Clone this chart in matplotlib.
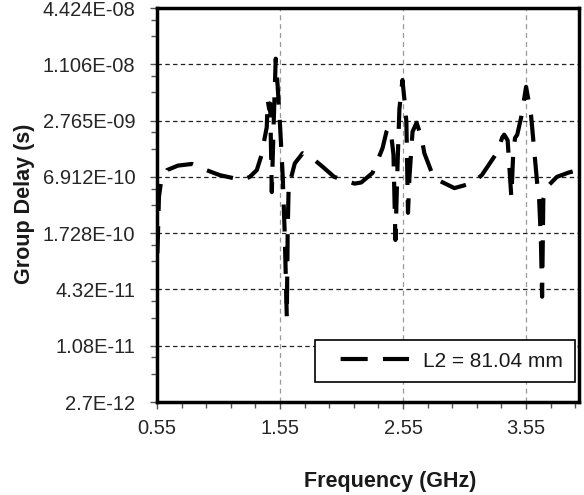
import matplotlib
matplotlib.use("Agg")
import matplotlib.pyplot as plt
from matplotlib.ticker import FixedLocator, FixedFormatter, NullFormatter

plt.rcParams['font.family'] = ['Liberation Sans', 'DejaVu Sans']
plt.rcParams['lines.scale_dashes'] = False

# ---- data ----
freq_ghz = [0.55, 0.558, 0.566, 0.582, 0.631, 0.72, 0.834, 0.94, 1.06, 1.166, 1.24, 1.304,
            1.361, 1.40, 1.426, 1.442, 1.45, 1.462, 1.47, 1.483, 1.499, 1.515, 1.531, 1.548,
            1.572, 1.588, 1.605, 1.612, 1.62, 1.67, 1.734, 1.83, 1.896, 1.99, 2.156, 2.21,
            2.302, 2.383, 2.415, 2.432, 2.456, 2.472, 2.488, 2.505, 2.52, 2.545, 2.569, 2.577,
            2.59, 2.602, 2.627, 2.66, 2.70, 2.723, 2.80, 2.967, 3.113, 3.19, 3.316, 3.356,
            3.372, 3.40, 3.43, 3.445, 3.46, 3.478, 3.51, 3.55, 3.59, 3.64, 3.656, 3.67,
            3.68, 3.69, 3.72, 3.80, 3.90, 3.98]
group_delay_s = [7.52e-11, 1.73e-10, 4.25e-10, 6.02e-10, 8.16e-10, 9.12e-10, 9.50e-10, 8.27e-10,
                 7.21e-10, 6.72e-10, 6.36e-10, 6.91e-10,
                 8.16e-10, 1.187e-9, 1.824e-9, 2.34e-9, 4.55e-9, 3.65e-9, 4.19e-9, 4.75e-10,
                 2.765e-9, 1.27e-8, 6.35e-9, 2.765e-9,
                 6.91e-10, 1.73e-10, 2.16e-11, 1.73e-10, 5.38e-10, 9.64e-10, 1.237e-9, 1.048e-9,
                 8.87e-10, 6.91e-10, 5.85e-10, 6.02e-10,
                 7.62e-10, 1.40e-9, 2.10e-9, 2.31e-9, 1.824e-9, 1.20e-9, 1.46e-10, 9.12e-10,
                 3.65e-9, 7.50e-9, 3.65e-9, 2.62e-9,
                 2.85e-10, 6.91e-10, 2.10e-9, 2.62e-9, 1.824e-9, 1.237e-9, 6.72e-10, 5.24e-10,
                 5.93e-10, 7.21e-10, 1.27e-9, 1.824e-9,
                 1.955e-9, 1.70e-9, 4.20e-10, 1.20e-9, 1.80e-9, 1.955e-9, 3.0e-9, 6.35e-9,
                 3.18e-9, 5.93e-10, 3.97e-10, 1.50e-10,
                 3.61e-11, 3.97e-10, 5.38e-10, 6.91e-10, 7.72e-10, 8.16e-10]
series_label = "L2 = 81.04 mm"

y_tick_values = [2.7e-12, 1.08e-11, 4.32e-11, 1.728e-10, 6.912e-10, 2.765e-9, 1.106e-8, 4.424e-8]
y_tick_labels = ["2.7E-12", "1.08E-11", "4.32E-11", "1.728E-10", "6.912E-10",
                 "2.765E-09", "1.106E-08", "4.424E-08"]
x_tick_values = [0.55, 1.55, 2.55, 3.55]
x_tick_labels = ["0.55", "1.55", "2.55", "3.55"]

W, H = 584, 495
fig = plt.figure(figsize=(W / 100, H / 100), dpi=100)
ax = fig.add_axes([157 / W, 1 - 402 / H, (579 - 157) / W, (402 - 8) / H])

ax.set_yscale('log')
ax.set_xlim(0.55, 3.98)
ax.set_ylim(y_tick_values[0], y_tick_values[-1])

ax.plot(freq_ghz, group_delay_s, color='black', lw=3.0,
        linestyle=(20.7, (19.5, 11)), solid_capstyle='butt', dash_capstyle='butt',
        label=series_label, zorder=3)

# ticks
ax.yaxis.set_major_locator(FixedLocator(y_tick_values))
ax.yaxis.set_major_formatter(FixedFormatter(y_tick_labels))
minor_y = []
for v in y_tick_values[:-1]:
    minor_y += [2 * v, 3 * v]
ax.yaxis.set_minor_locator(FixedLocator(minor_y))
ax.yaxis.set_minor_formatter(NullFormatter())

ax.xaxis.set_major_locator(FixedLocator(x_tick_values))
ax.xaxis.set_major_formatter(FixedFormatter(x_tick_labels))
minor_x = [0.75 + 0.2 * i for i in range(17) if 0.75 + 0.2 * i < 3.98]
ax.xaxis.set_minor_locator(FixedLocator(minor_x))

ax.tick_params(axis='both', which='both', direction='out', color='#555555',
               labelcolor='#262626', labelsize=14.5, top=False, right=False)
ax.tick_params(axis='both', which='major', length=5, width=1)
ax.tick_params(axis='both', which='minor', length=4, width=1)
ax.tick_params(axis='y', which='major', pad=10.5)
ax.tick_params(axis='x', which='major', pad=7.5)

# grid
ax.grid(True, axis='y', which='major', color='#222222', lw=0.9, linestyle=(0, (3.2, 2.4)), zorder=1)
ax.grid(True, axis='x', which='major', color='#9a9a9a', lw=0.9, linestyle=(0, (3.6, 2.8)), zorder=1)
ax.set_axisbelow(True)

for s in ax.spines.values():
    s.set_linewidth(2.5)
    s.set_color('black')

leg = ax.legend(loc='lower right', bbox_to_anchor=(0.99, 0.0508), fontsize=15,
                frameon=True, fancybox=False, shadow=False, framealpha=1,
                edgecolor='black', handlelength=3.97, handletextpad=0.67,
                borderpad=0.55, borderaxespad=0)
leg.get_frame().set_linewidth(1.2)
for t in leg.get_texts():
    t.set_color('#1a1a1a')

fig.text(390 / W, 1 - 482 / H, "Frequency (GHz)", ha='center', va='center',
         fontsize=15.5, fontweight='bold', color='#1a1a1a')
fig.text(25 / W, 1 - 204 / H, "Group Delay (s)", ha='center', va='center',
         rotation=90, fontsize=15.5, fontweight='bold', color='#1a1a1a')

fig.savefig("out.png", dpi=100, facecolor='white')
